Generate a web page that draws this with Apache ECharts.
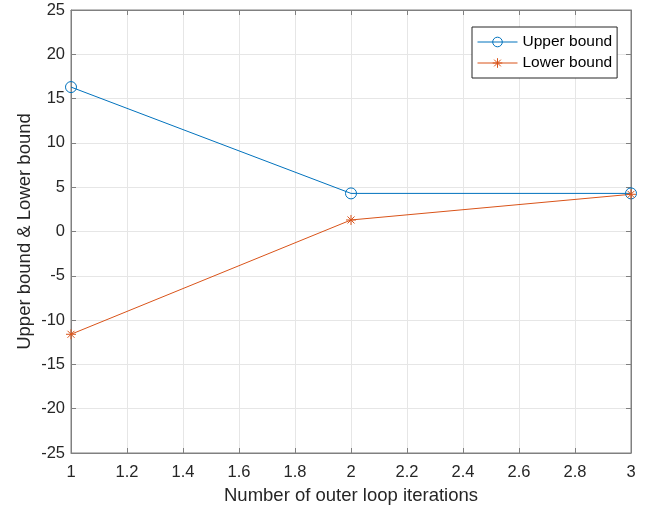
<!DOCTYPE html>
<html>
<head>
<meta charset="utf-8">
<script src="https://cdn.jsdelivr.net/npm/echarts@6/dist/echarts.min.js"></script>
<style>
  html, body { margin: 0; padding: 0; background: #fff; }
  #chart { width: 650px; height: 510px; }
</style>
</head>
<body>
<div id="chart"></div>
<script>
var iterations = [1, 2, 3];
var upperBound = [16.3, 4.3, 4.3];
var lowerBound = [-11.6, 1.3, 4.2];

var axisColor = '#808080';
var textColor = '#262626';
var starPath = 'path://M0,-1L0,1M-1,0L1,0M-0.7,-0.7L0.7,0.7M-0.7,0.7L0.7,-0.7';

function pairs(xs, ys) {
	return xs.map(function(x, i) { return [x, ys[i]]; });
}

var myChart = echarts.init(document.getElementById('chart'));
var option = {
	animation: false,
	textStyle: { fontFamily: 'Liberation Sans, Arial, sans-serif' },
	grid: {
		left: 71, right: 19, top: 10, bottom: 57,
		show: true, borderColor: axisColor, borderWidth: 1
	},
	legend: {
		data: ['Upper bound', 'Lower bound'],
		orient: 'vertical',
		left: 472, top: 27,
		itemWidth: 40, itemHeight: 12, itemGap: 5,
		padding: [7, 5, 7, 5],
		borderColor: textColor, borderWidth: 1,
		backgroundColor: '#fff',
		lineStyle: { width: 1 },
		itemStyle: { borderWidth: 1 },
		textStyle: { fontSize: 15.5, color: '#000', padding: [0, 0, 0, 0] }
	},
	xAxis: [{
		type: 'value', min: 1, max: 3, interval: 0.2,
		name: 'Number of outer loop iterations',
		nameLocation: 'middle', nameGap: 33,
		nameTextStyle: { fontSize: 18.5, color: textColor },
		axisLine: { onZero: false, lineStyle: { color: axisColor } },
		axisTick: { inside: true, length: 5, lineStyle: { color: axisColor } },
		axisLabel: {
			fontSize: 16.5, color: textColor, margin: 11,
			formatter: function(v) { return String(+v.toFixed(1)); }
		},
		splitLine: { lineStyle: { color: '#e6e6e6' } }
	}, {
		type: 'value', min: 1, max: 3, interval: 0.2, position: 'top',
		axisLine: { onZero: false, lineStyle: { color: axisColor } },
		axisTick: { inside: true, length: 5, lineStyle: { color: axisColor } },
		axisLabel: { show: false }, splitLine: { show: false }
	}],
	yAxis: [{
		type: 'value', min: -25, max: 25, interval: 5,
		name: 'Upper bound & Lower bound',
		nameLocation: 'middle', nameGap: 37, nameMoveOverlap: false,
		nameTextStyle: { fontSize: 18.5, color: textColor },
		axisLine: { show: true, onZero: false, lineStyle: { color: axisColor } },
		axisTick: { show: true, inside: true, length: 5, lineStyle: { color: axisColor } },
		axisLabel: { fontSize: 16.5, color: textColor, margin: 6 },
		splitLine: { lineStyle: { color: '#e6e6e6' } }
	}, {
		type: 'value', min: -25, max: 25, interval: 5, position: 'right',
		axisLine: { show: true, onZero: false, lineStyle: { color: axisColor } },
		axisTick: { show: true, inside: true, length: 5, lineStyle: { color: axisColor } },
		axisLabel: { show: false }, splitLine: { show: false }
	}],
	series: [{
		name: 'Upper bound',
		type: 'line',
		data: pairs(iterations, upperBound),
		symbol: 'circle', symbolSize: 11,
		lineStyle: { color: '#0072BD', width: 1 },
		itemStyle: { color: 'rgba(0,0,0,0)', borderColor: '#0072BD', borderWidth: 1 }
	}, {
		name: 'Lower bound',
		type: 'line',
		data: pairs(iterations, lowerBound),
		symbol: starPath, symbolSize: 10,
		lineStyle: { color: '#D95319', width: 1 },
		itemStyle: { color: 'rgba(0,0,0,0)', borderColor: '#D95319', borderWidth: 1 }
	}]
};
myChart.setOption(option);
</script>
</body>
</html>
